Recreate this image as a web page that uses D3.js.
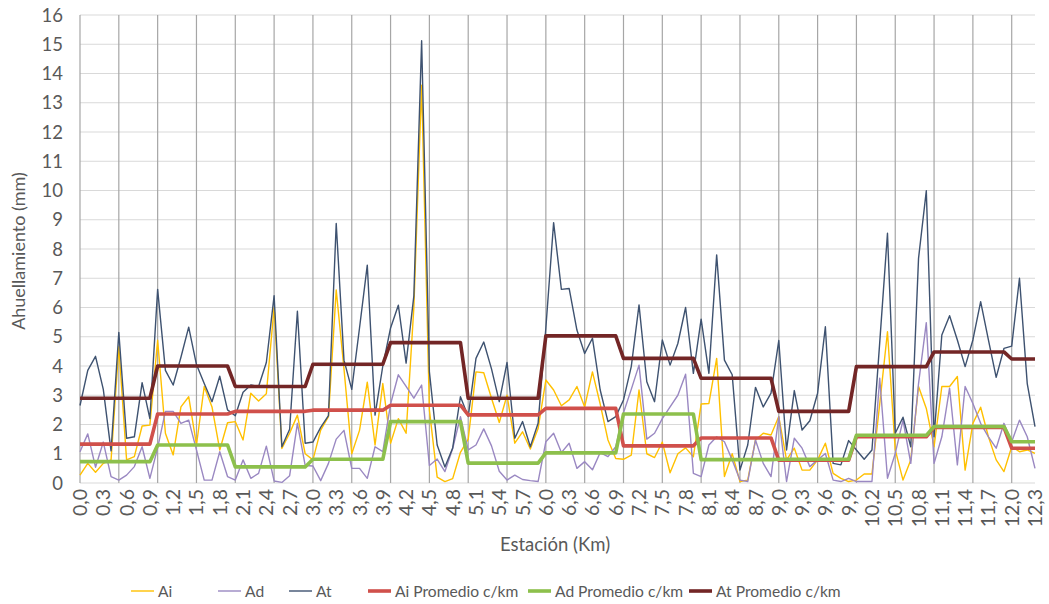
<!DOCTYPE html>
<html><head><meta charset="utf-8">
<script src="https://cdn.jsdelivr.net/npm/d3@7"></script>
<style>
body{margin:0;background:#fff;}
text{font-family:Lato,"Open Sans",sans-serif;fill:#595959;}
</style></head>
<body><svg id="c" width="1049" height="604"></svg>
<script>
const stations = ["0,0","0,1","0,2","0,3","0,4","0,5","0,6","0,7","0,8","0,9",
"1,0","1,1","1,2","1,3","1,4","1,5","1,6","1,7","1,8","1,9",
"2,0","2,1","2,2","2,3","2,4","2,5","2,6","2,7","2,8","2,9",
"3,0","3,1","3,2","3,3","3,4","3,5","3,6","3,7","3,8","3,9",
"4,0","4,1","4,2","4,3","4,4","4,5","4,6","4,7","4,8","4,9",
"5,0","5,1","5,2","5,3","5,4","5,5","5,6","5,7","5,8","5,9",
"6,0","6,1","6,2","6,3","6,4","6,5","6,6","6,7","6,8","6,9",
"7,0","7,1","7,2","7,3","7,4","7,5","7,6","7,7","7,8","7,9",
"8,0","8,1","8,2","8,3","8,4","8,5","8,6","8,7","8,8","8,9",
"9,0","9,1","9,2","9,3","9,4","9,5","9,6","9,7","9,8","9,9",
"10,0","10,1","10,2","10,3","10,4","10,5","10,6","10,7","10,8","10,9",
"11,0","11,1","11,2","11,3","11,4","11,5","11,6","11,7","11,8","11,9",
"12,0","12,1","12,2","12,3"];

const ai = [0.27,0.67,0.37,0.67,0.79,4.66,0.79,0.9,1.95,1.98,
4.88,1.7,0.96,2.6,2.95,1.3,3.3,2.6,1.13,2.06,
2.1,1.47,3.07,2.8,3.05,6.0,1.18,1.7,2.32,1.0,
0.79,1.81,2.27,6.6,3.9,1.0,1.8,3.45,1.3,3.4,
1.36,2.2,1.7,6.0,13.6,2.5,0.2,0.05,0.15,1.05,
1.5,3.8,3.77,2.9,2.07,3.0,1.36,1.75,1.16,1.86,
3.52,3.18,2.64,2.84,3.3,2.6,3.8,2.7,1.47,0.84,
0.81,0.95,3.18,1.0,0.87,1.4,0.35,1.0,1.2,0.9,
2.7,2.72,4.26,0.22,1.0,0.05,0.1,1.47,1.7,1.64,
2.27,0.79,1.19,0.44,0.44,0.79,1.36,0.33,0.16,0.05,
0.1,0.31,0.31,2.7,5.17,1.13,0.1,0.79,3.3,2.55,
1.24,3.3,3.3,3.64,0.44,2.04,2.59,1.58,0.79,0.39,
1.24,1.07,1.13,1.01];

const ad = [1.07,1.68,0.54,1.4,0.22,0.1,0.27,0.56,1.24,0.16,
1.2,2.45,2.45,2.04,2.15,1.13,0.1,0.1,1.07,0.22,
0.1,0.79,0.16,0.33,1.26,0.07,0.02,0.25,2.04,0.6,
0.58,0.08,0.67,1.5,1.8,0.5,0.5,0.16,1.24,1.07,
2.7,3.7,3.3,2.9,3.35,0.6,0.82,0.39,1.18,2.27,
1.13,1.3,1.85,1.27,0.4,0.1,0.27,0.12,0.08,0.05,
1.41,1.7,1.04,1.36,0.5,0.73,0.45,1.04,0.9,1.24,
2.4,3.2,4.03,1.5,1.7,2.2,2.6,3.0,3.72,0.33,
0.22,1.3,1.58,1.41,0.79,0.1,0.05,1.47,0.67,0.22,
2.27,0.05,1.53,1.19,0.56,0.79,1.01,0.1,0.05,0.16,
0.05,0.05,0.05,3.58,0.16,1.01,2.15,0.67,3.4,5.48,
0.67,1.58,3.24,0.62,3.3,2.72,2.04,1.58,1.19,2.04,
1.41,2.15,1.58,0.5];

const at = [2.65,3.85,4.33,3.2,1.1,5.15,1.53,1.58,3.43,2.2,
6.62,3.85,3.35,4.3,5.33,4.05,3.4,2.78,3.65,2.5,
2.3,3.1,3.35,3.3,4.12,6.4,1.24,1.84,5.87,1.36,
1.4,1.9,2.3,8.87,4.2,3.2,5.3,7.45,2.32,4.0,
5.3,6.08,4.1,6.4,15.12,3.8,1.3,0.55,1.2,2.95,
2.27,4.26,4.82,3.9,2.78,4.12,1.53,2.1,1.24,2.04,
5.3,8.9,6.62,6.65,5.23,4.43,4.95,3.18,2.1,2.27,
2.84,3.98,6.09,3.46,2.78,4.89,4.03,4.77,6.0,3.75,
5.6,3.75,7.8,4.2,3.7,0.44,1.3,3.27,2.6,3.07,
4.87,1.13,3.16,1.81,2.13,3.07,5.34,0.67,0.62,1.45,
1.13,0.81,1.13,4.8,8.54,1.7,2.25,1.24,7.68,9.99,
1.58,5.06,5.72,4.89,3.98,4.89,6.2,4.89,3.61,4.6,
4.68,7.0,3.4,1.93];

// averages per kilometre (km 0 .. km 12)
const aiAvgKm = [1.33,2.36,2.45,2.49,2.66,2.33,2.55,1.27,1.54,0.78,1.58,1.9,1.19];
const adAvgKm = [0.73,1.3,0.55,0.81,2.1,0.68,1.03,2.36,0.8,0.81,1.63,1.93,1.41];
const atAvgKm = [2.9,4.0,3.3,4.06,4.8,2.9,5.03,4.26,3.58,2.45,3.98,4.48,4.24];

const yTicks = d3.range(0, 17, 1);

const kmOf = s => parseInt(s.split(",")[0], 10);

const series = [
  {name:"Ai", values: ai, color:"#FFC000", width:1.4},
  {name:"Ad", values: ad, color:"#9A88C2", width:1.4},
  {name:"At", values: at, color:"#3E5270", width:1.4},
  {name:"Ai Promedio c/km", values: stations.map(s => aiAvgKm[kmOf(s)]), color:"#D0504B", width:3.6},
  {name:"Ad Promedio c/km", values: stations.map(s => adAvgKm[kmOf(s)]), color:"#8DC04C", width:3.6},
  {name:"At Promedio c/km", values: stations.map(s => atAvgKm[kmOf(s)]), color:"#732626", width:3.6}
];

const svg = d3.select("#c");
const L = 80, R = 1035, T = 15, B = 483;
const x = d3.scalePoint().domain(stations).range([L, R]);
const y = d3.scaleLinear().domain([0, 16]).range([B, T]);

// horizontal gridlines
svg.append("g").selectAll("line").data(yTicks).join("line")
  .attr("x1", L).attr("x2", R)
  .attr("y1", d => y(d)).attr("y2", d => y(d))
  .attr("stroke", "#D9D9D9").attr("stroke-width", 1);

// vertical gridlines every 5 stations
svg.append("g").selectAll("line").data(stations.filter((s, i) => i % 5 === 0)).join("line")
  .attr("x1", d => x(d)).attr("x2", d => x(d))
  .attr("y1", T).attr("y2", B)
  .attr("stroke", "#A6A6A6").attr("stroke-width", 1.2);

// y axis labels
svg.append("g").selectAll("text").data(yTicks).join("text")
  .attr("x", 63).attr("y", d => y(d)).attr("dy", "0.36em")
  .attr("text-anchor", "end").attr("font-size", 18.5)
  .text(d => d);

// x axis labels (every 3 stations)
svg.append("g").selectAll("text").data(stations.filter((s, i) => i % 3 === 0)).join("text")
  .attr("transform", d => `translate(${x(d)},489) rotate(-90)`)
  .attr("dy", "0.36em").attr("text-anchor", "end").attr("font-size", 19.5)
  .text(d => d);

// axis titles
svg.append("text").attr("transform", "translate(25,251) rotate(-90)")
  .attr("text-anchor", "middle").attr("font-size", 18).text("Ahuellamiento (mm)");
svg.append("text").attr("x", 555).attr("y", 551)
  .attr("text-anchor", "middle").attr("font-size", 18.5).text("Estación (Km)");

// lines
const line = d3.line().x((d, i) => x(stations[i])).y(d => y(d));
svg.append("g").selectAll("path").data(series).join("path")
  .attr("d", d => line(d.values))
  .attr("fill", "none").attr("stroke", d => d.color)
  .attr("stroke-width", d => d.width).attr("stroke-linejoin", "round");

// legend
const legX = [131, 218, 289, 368, 528, 689];
const leg = svg.append("g").selectAll("g").data(series).join("g")
  .attr("transform", (d, i) => `translate(${legX[i]},591)`);
leg.append("line").attr("x1", 0).attr("x2", 23).attr("y1", 0).attr("y2", 0)
  .attr("stroke", d => d.color).attr("stroke-width", d => d.width);
leg.append("text").attr("x", 27).attr("dy", "0.36em").attr("font-size", 15.6).text(d => d.name);
</script></body></html>
